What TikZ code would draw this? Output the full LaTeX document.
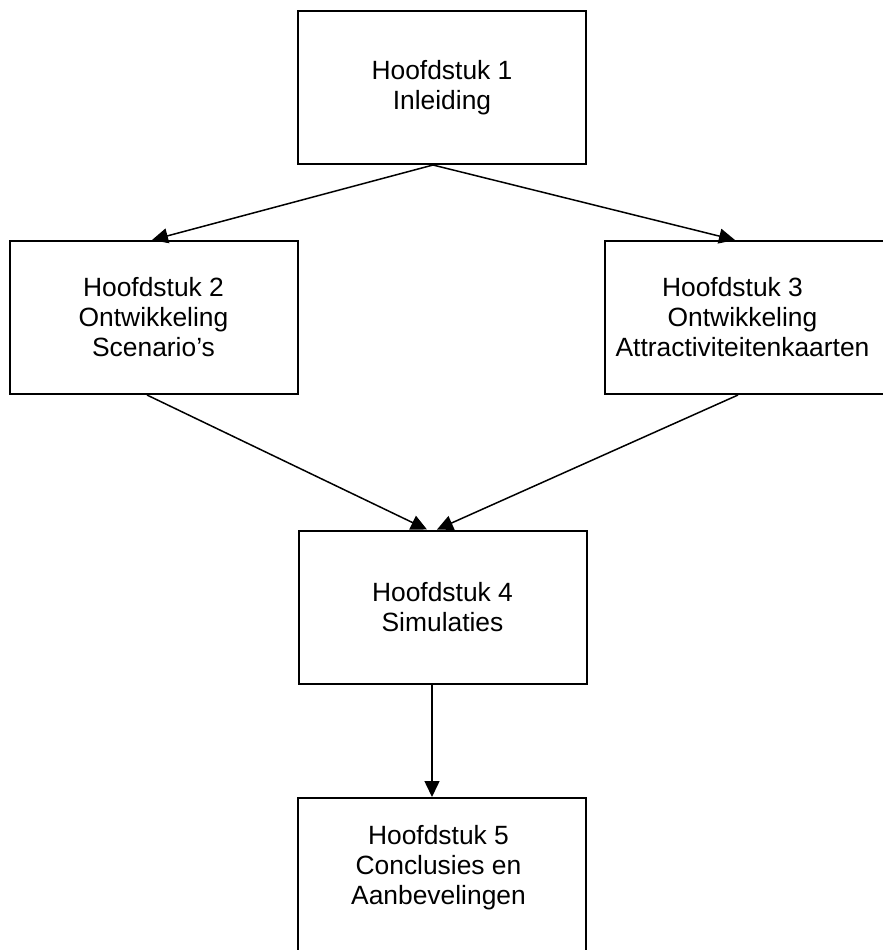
\documentclass[tikz,border=0pt]{standalone}
\usepackage{fontspec}
\setmainfont{Liberation Sans}
\usetikzlibrary{arrows.meta}

\begin{document}
\begin{tikzpicture}[x=0.5pt, y=-0.5pt,
        chapbox/.style={draw=black, line width=1pt, minimum width=144pt, minimum height=76.5pt,
            align=center, font=\fontsize{13.2}{15}\selectfont},
        chaptext/.style={align=center, font=\fontsize{13.2}{15}\selectfont},
        flow/.style={-{Triangle[length=8pt, width=7.5pt]}, line width=0.75pt}]
        \useasboundingbox (0,0) rectangle (883,950);

        \node[chapbox] (h1) at (442, 87.5) {Hoofdstuk 1\\Inleiding};
        \node[chapbox] (h2) at (153.5, 317.5) {Hoofdstuk 2\\Ontwikkeling\\Scenario’s};
        \node[chapbox, minimum width=142.5pt] (h3) at (747.5, 317.5) {};
        \node[chaptext] (h3text) at (742.5, 317.5)
            {Hoofdstuk 3\hspace*{10pt}\\Ontwikkeling\hspace*{14.4pt}\\Attractiviteitenkaarten};
        \node[chapbox] (h4) at (442.5, 607) {Hoofdstuk 4\\Simulaties};
        \node[chapbox, minimum height=81pt] (h5) at (442, 879) {};
        \node[chaptext] (h5text) at (438.5, 868) {Hoofdstuk 5\\Conclusies en\\Aanbevelingen};

        \draw[flow] ([xshift=-4.5pt]h1.south) -- ([xshift=-0.75pt]h2.north);
        \draw[flow] ([xshift=-4.5pt]h1.south) -- ([xshift=-6.25pt]h3.north);
        \draw[flow] ([xshift=-3.25pt]h2.south) -- ([xshift=-7.75pt]h4.north);
        \draw[flow] ([xshift=-4.75pt]h3.south) -- ([xshift=-2.75pt]h4.north);
        \draw[flow] ([xshift=-5.25pt]h4.south) -- ([xshift=-5pt]h5.north);
\end{tikzpicture}
\end{document}
